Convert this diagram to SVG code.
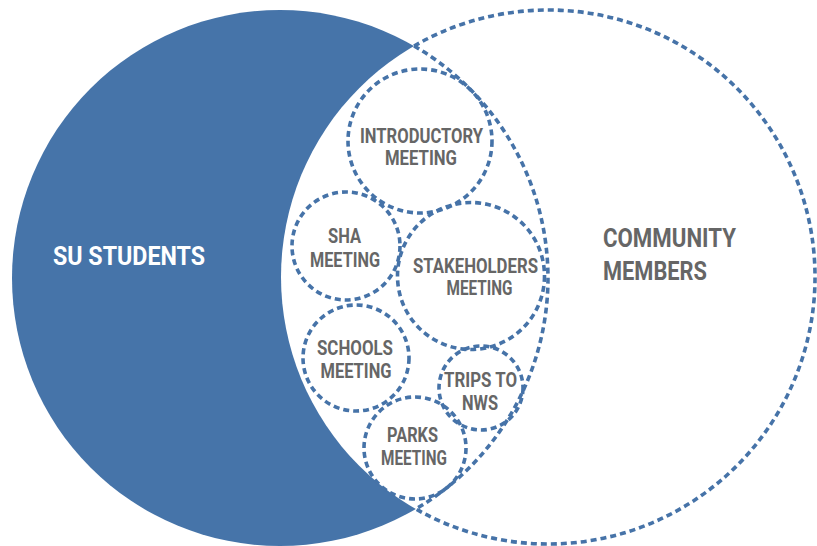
<svg xmlns="http://www.w3.org/2000/svg" width="817" height="546" viewBox="0 0 817 546">
<style>
.dash{fill:none;stroke:#4673a8;stroke-width:3.6;stroke-dasharray:6 4}
.lbl{font-family:"Liberation Sans Narrow","Roboto","Liberation Sans",sans-serif;font-weight:bold;font-size:20.5px;fill:#666666;text-anchor:middle}
.big{font-family:"Liberation Sans Narrow","Roboto","Liberation Sans",sans-serif;font-weight:bold;font-size:25.5px}
</style>
<rect width="817" height="546" fill="#ffffff"/>
<g id="su-students">
<circle cx="280" cy="278" r="268" fill="#4674a9"/>
</g>
<g id="community-members">
<circle cx="548" cy="277" r="267" fill="#ffffff"/>
</g>
<g id="connectors">
<path class="dash" d="M414.1,46 A268,268 0 0 1 415.9,509"/>
<path class="dash" d="M414.1,46 A267,267 0 1 1 415.9,509"/>
</g>
<g id="label-su"><text class="big" x="53" y="265" fill="#ffffff" textLength="152" lengthAdjust="spacingAndGlyphs">SU STUDENTS</text></g>
<g id="label-community">
<text class="big" x="603" y="247" fill="#666666" textLength="133" lengthAdjust="spacingAndGlyphs">COMMUNITY</text>
<text class="big" x="603" y="280" fill="#666666" textLength="104" lengthAdjust="spacingAndGlyphs">MEMBERS</text>
</g>
<g id="introductory">
<circle class="dash" cx="420" cy="141" r="72"/>
<text class="lbl" x="421.5" y="143" textLength="123" lengthAdjust="spacingAndGlyphs">INTRODUCTORY</text>
<text class="lbl" x="421" y="165" textLength="72" lengthAdjust="spacingAndGlyphs">MEETING</text>
</g>
<g id="sha">
<circle class="dash" cx="346" cy="246" r="54"/>
<text class="lbl" x="344.5" y="243" textLength="33" lengthAdjust="spacingAndGlyphs">SHA</text>
<text class="lbl" x="345" y="267" textLength="70" lengthAdjust="spacingAndGlyphs">MEETING</text>
</g>
<g id="stakeholders">
<circle class="dash" cx="471" cy="276" r="73.5"/>
<text class="lbl" x="475.5" y="273" textLength="125" lengthAdjust="spacingAndGlyphs">STAKEHOLDERS</text>
<text class="lbl" x="479.5" y="295" textLength="66" lengthAdjust="spacingAndGlyphs">MEETING</text>
</g>
<g id="schools">
<circle class="dash" cx="356" cy="358" r="53"/>
<text class="lbl" x="355" y="355" textLength="76" lengthAdjust="spacingAndGlyphs">SCHOOLS</text>
<text class="lbl" x="356" y="378" textLength="71" lengthAdjust="spacingAndGlyphs">MEETING</text>
</g>
<g id="trips">
<circle class="dash" cx="481" cy="388" r="42"/>
<text class="lbl" x="480.5" y="387" textLength="73" lengthAdjust="spacingAndGlyphs">TRIPS TO</text>
<text class="lbl" x="480" y="410" textLength="36" lengthAdjust="spacingAndGlyphs">NWS</text>
</g>
<g id="parks">
<circle class="dash" cx="415" cy="448" r="51"/>
<text class="lbl" x="412.5" y="442" textLength="51" lengthAdjust="spacingAndGlyphs">PARKS</text>
<text class="lbl" x="414" y="465" textLength="66" lengthAdjust="spacingAndGlyphs">MEETING</text>
</g>
</svg>
